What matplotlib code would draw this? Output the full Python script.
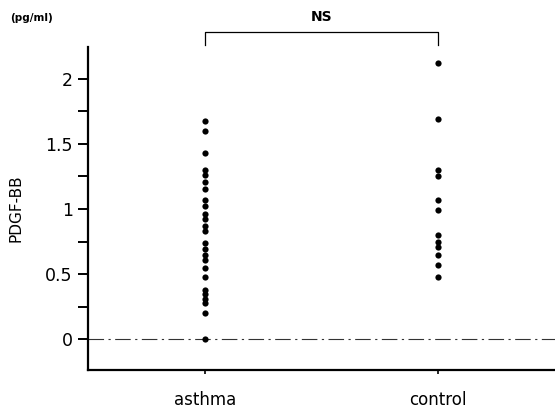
import matplotlib.pyplot as plt
from matplotlib.ticker import MultipleLocator

# PDGF-BB concentration (pg/ml) per subject
groups = ['asthma', 'control']
asthma = [1.68, 1.60, 1.43, 1.30, 1.26, 1.21, 1.15, 1.07, 1.02, 0.96, 0.92,
          0.87, 0.83, 0.74, 0.69, 0.65, 0.61, 0.55, 0.48, 0.38, 0.35, 0.31,
          0.28, 0.20, 0.00]
control = [2.12, 1.69, 1.30, 1.25, 1.07, 0.99, 0.80, 0.75, 0.71, 0.65,
           0.57, 0.48]
yticks = [0, 0.5, 1, 1.5, 2]
ytick_labels = ['0', '0.5', '1', '1.5', '2']

plt.rcParams['font.family'] = 'DejaVu Sans'

fig = plt.figure(figsize=(5.55, 4.12), dpi=100)
ax = fig.add_axes([0.1586, 0.102, 0.8414, 0.784])

for i, vals in enumerate([asthma, control]):
    ax.scatter([i + 1] * len(vals), vals, s=20, color='black', zorder=3,
               linewidths=0)

ax.axhline(0, color='#333333', lw=0.8, ls=(0, (14, 4, 2, 4)), zorder=1)

ax.set_xlim(0.5, 2.5)
ax.set_ylim(-0.238, 2.246)
ax.set_xticks([1, 2])
ax.set_xticklabels(groups, fontsize=12)
ax.set_yticks(yticks)
ax.set_yticklabels(ytick_labels, fontsize=12.5)
ax.yaxis.set_minor_locator(MultipleLocator(0.25))

for side in ['top', 'right']:
    ax.spines[side].set_visible(False)
for side in ['left', 'bottom']:
    ax.spines[side].set_linewidth(1.6)

ax.tick_params(axis='y', which='both', direction='out', length=7, width=1.4,
               pad=4)
ax.tick_params(axis='x', direction='out', length=3, width=1.2, pad=12)

ax.set_ylabel('PDGF-BB', fontsize=11, labelpad=16)
fig.text(10 / 555, 1 - 18 / 412, '(pg/ml)', fontsize=7.5,
         fontweight='bold', ha='left', va='center')

# significance bracket between the two groups
top, drop = 2.36, 2.26
ax.plot([1, 1, 2, 2], [drop, top, top, drop], color='black', lw=0.9,
        clip_on=False)
ax.text(1.5, top + 0.06, 'NS', ha='center', va='bottom', fontsize=10,
        fontweight='bold')

fig.savefig('out.png', dpi=100)
